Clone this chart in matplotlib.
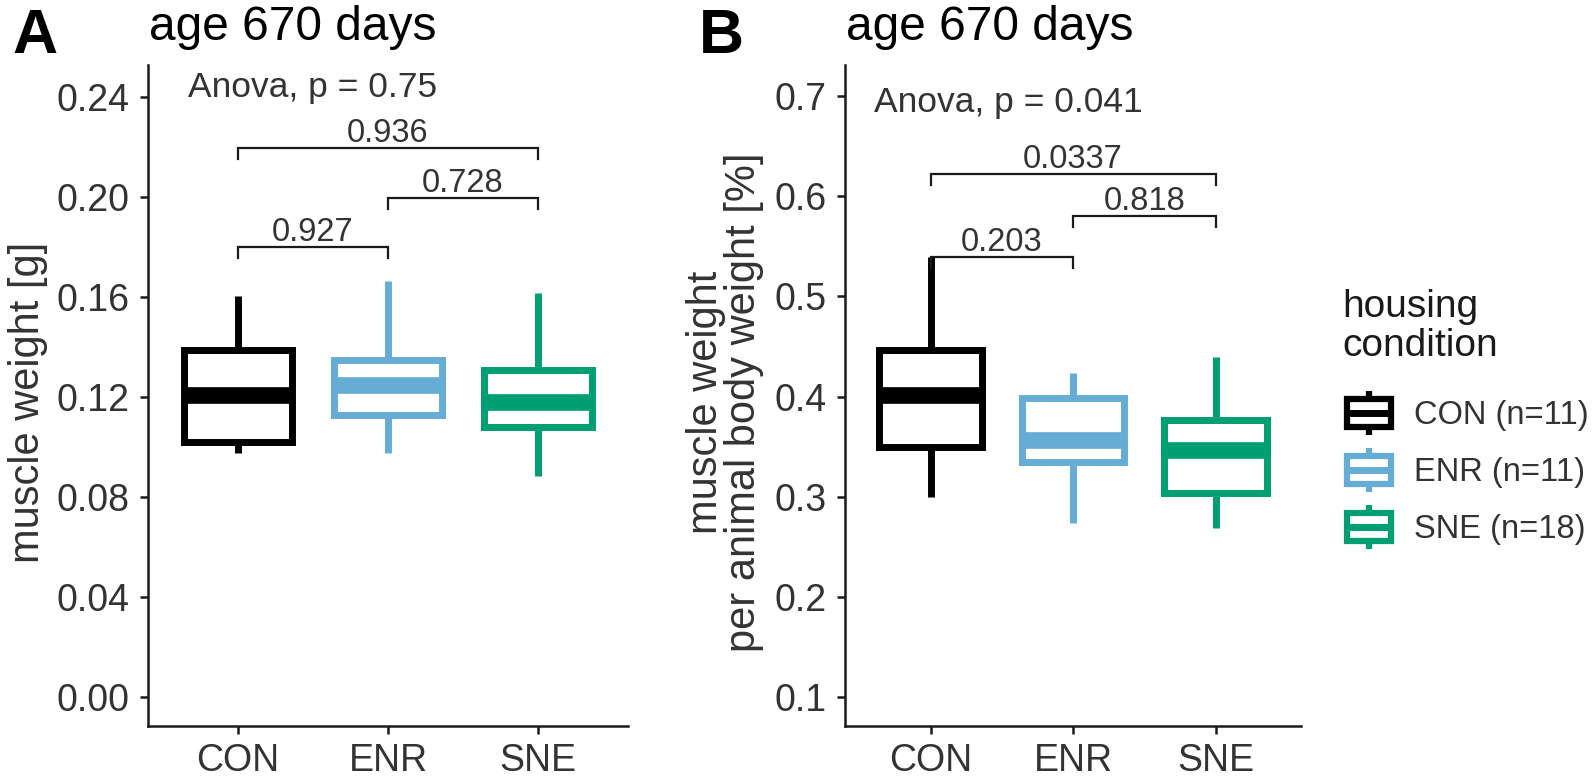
import numpy as np
import matplotlib.pyplot as plt
from matplotlib.legend_handler import HandlerBase
from matplotlib.patches import Rectangle
from matplotlib.lines import Line2D

plt.rcParams['font.family'] = ['Liberation Sans', 'DejaVu Sans']

# groups and colours
groups = ['CON', 'ENR', 'SNE']
group_n = [11, 11, 18]
colores = ['#000000', '#66ADD6', '#009E73']

# panel A: muscle weight [g] (box statistics)
a_whislo = [0.0976, 0.0976, 0.0884]
a_q1 = [0.102, 0.113, 0.108]
a_med = [0.121, 0.1248, 0.118]
a_q3 = [0.1388, 0.1348, 0.1308]
a_whishi = [0.1604, 0.1664, 0.1616]
a_pairs = [(1, 2), (2, 3), (1, 3)]
a_pvals = ['0.927', '0.728', '0.936']
a_bracket_y = [0.1800, 0.1996, 0.2196]
a_anova = 'Anova, p = 0.75'
a_yticks = [0.00, 0.04, 0.08, 0.12, 0.16, 0.20, 0.24]

# panel B: muscle weight per animal body weight [%]
b_whislo = [0.300, 0.274, 0.269]
b_q1 = [0.350, 0.3347, 0.304]
b_med = [0.4016, 0.3567, 0.347]
b_q3 = [0.4465, 0.399, 0.3766]
b_whishi = [0.539, 0.4236, 0.4395]
b_pairs = [(1, 2), (2, 3), (1, 3)]
b_pvals = ['0.203', '0.818', '0.0337']
b_bracket_y = [0.539, 0.580, 0.622]
b_anova = 'Anova, p = 0.041'
b_yticks = [0.1, 0.2, 0.3, 0.4, 0.5, 0.6, 0.7]

W, H = 1594, 783
gris = '#333333'
negro = '#1a1a1a'


class BoxKey(HandlerBase):
    # mini boxplot used as legend key
    def create_artists(self, legend, orig_handle, xdescent, ydescent,
                       width, height, fontsize, trans):
        c = orig_handle.get_color()
        x0, y0 = -xdescent, -ydescent
        lo, hi = y0 + 0.18 * height, y0 + 0.82 * height
        caja = Rectangle((x0, lo), width, hi - lo, fill=False, edgecolor=c,
                         linewidth=4.5, joinstyle='miter', transform=trans)
        mediana = Line2D([x0, x0 + width], [y0 + height / 2] * 2, color=c,
                         lw=5, solid_capstyle='butt', transform=trans)
        w1 = Line2D([x0 + width / 2] * 2, [y0, lo], color=c, lw=4.5,
                    solid_capstyle='butt', transform=trans)
        w2 = Line2D([x0 + width / 2] * 2, [hi, y0 + height], color=c, lw=4.5,
                    solid_capstyle='butt', transform=trans)
        return [caja, mediana, w1, w2]


def panel(ax, whislo, q1, med, q3, whishi, pairs, pvals, bracket_y, tip,
          anova, anova_xy, yticks, ylim, fmt):
    for i, c in enumerate(colores):
        stats = [dict(med=med[i], q1=q1[i], q3=q3[i], whislo=whislo[i],
                      whishi=whishi[i], fliers=[])]
        ax.bxp(stats, positions=[i + 1], widths=0.72, showcaps=False,
               showfliers=False, manage_ticks=False,
               boxprops=dict(color=c, linewidth=5, solid_joinstyle='miter'),
               medianprops=dict(color=c, linewidth=12, solid_capstyle='butt'),
               whiskerprops=dict(color=c, linewidth=5, solid_capstyle='butt'))

    # brackets with p values
    for (x1, x2), p, y in zip(pairs, pvals, bracket_y):
        ax.plot([x1, x1, x2, x2], [y - tip, y, y, y - tip], color=negro,
                lw=1.6, solid_joinstyle='miter')
        ax.annotate(p, xy=((x1 + x2) / 2, y), xytext=(0, 4.5),
                    textcoords='offset points', ha='center', va='baseline',
                    fontsize=23.5, color=gris)

    ax.text(anova_xy[0], anova_xy[1], anova, ha='left', va='center',
            fontsize=25.5, color=gris)

    ax.set_xlim(0.4, 3.6)
    ax.set_ylim(*ylim)
    ax.set_xticks([1, 2, 3])
    ax.set_xticklabels(groups)
    ax.set_yticks(yticks)
    ax.set_yticklabels([fmt.format(v) for v in yticks])
    for s in ['top', 'right']:
        ax.spines[s].set_visible(False)
    for s in ['left', 'bottom']:
        ax.spines[s].set_linewidth(1.8)
        ax.spines[s].set_color(negro)
    ax.tick_params(length=6, width=1.8, color=negro, labelsize=27,
                   labelcolor=gris, pad=7)
    ax.tick_params(axis='x', pad=6)


fig = plt.figure(figsize=(W / 100, H / 100), dpi=100, facecolor='white')

bottom = (H - 726) / H
height = 661 / H
axA = fig.add_axes([148 / W, bottom, 480 / W, height])
axB = fig.add_axes([845 / W, bottom, 456 / W, height])

panel(axA, a_whislo, a_q1, a_med, a_q3, a_whishi, a_pairs, a_pvals,
      a_bracket_y, 0.0044, a_anova, (0.667, 0.2436), a_yticks,
      (-0.0116, 0.2528), '{:.2f}')
panel(axB, b_whislo, b_q1, b_med, b_q3, b_whishi, b_pairs, b_pvals,
      b_bracket_y, 0.011, b_anova, (0.6035, 0.694), b_yticks,
      (0.0711, 0.731), '{:.1f}')

# titles and panel letters
for ax, letra, xl in [(axA, 'A', 12), (axB, 'B', 699)]:
    ax.text(0.003, 1 + 25 / 661, 'age 670 days', transform=ax.transAxes,
            ha='left', va='baseline', fontsize=34.5, color='black')
    fig.text(xl / W, 1 - 53 / H, letra, ha='left', va='baseline',
             fontsize=45, fontweight='bold', color='black')

# y axis titles
fig.text(28 / W, 1 - 402 / H, 'muscle weight [g]', rotation=90,
         ha='center', va='center', fontsize=30, color=gris)
fig.text(725 / W, 1 - 402 / H, 'muscle weight\nper animal body weight [%]',
         rotation=90, ha='center', va='center', fontsize=30, color=gris,
         multialignment='center', linespacing=0.95)

# legend (title placed as its own text above the keys)
fig.text(1342 / W, 1 - 289 / H, 'housing\ncondition', ha='left', va='top',
         fontsize=28, color=negro, linespacing=1.12)
handles = [Line2D([], [], color=c) for c in colores]
labels = ['{} (n={})'.format(g, n) for g, n in zip(groups, group_n)]
leg = fig.legend(handles, labels, handler_map={Line2D: BoxKey()},
                 loc='upper left', bbox_to_anchor=(1347 / W, 1 - 391 / H),
                 bbox_transform=fig.transFigure, frameon=False,
                 fontsize=23.5, handlelength=1.36, handleheight=1.7,
                 handletextpad=0.7, labelspacing=0.4,
                 borderpad=0, borderaxespad=0)
for t in leg.get_texts():
    t.set_color(gris)

fig.savefig('out.png', dpi=100, facecolor='white')
